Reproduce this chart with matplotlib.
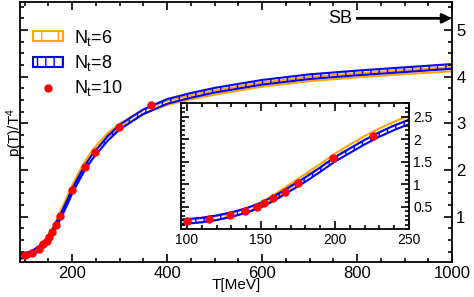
import numpy as np
import matplotlib
matplotlib.use("Agg")
import matplotlib.pyplot as plt
import matplotlib.ticker as ticker

plt.rcParams['font.family'] = ['Liberation Sans', 'DejaVu Sans']
plt.rcParams['hatch.linewidth'] = 1.0
plt.rcParams['mathtext.fontset'] = 'custom'
plt.rcParams['mathtext.rm'] = 'Liberation Sans'
plt.rcParams['mathtext.it'] = 'Liberation Sans'

# curves (N_t = 8 blue band, N_t = 6 orange band), centre values
T_curve = [90, 100, 110, 120, 130, 140, 150, 160, 170, 180, 190, 200, 210, 220,
           230, 240, 250, 275, 300, 350, 400, 450, 500, 600, 700, 800, 900, 1000]
p_nt8 = [0.15, 0.17, 0.20, 0.25, 0.32, 0.41, 0.53, 0.70, 0.90, 1.10, 1.32, 1.55,
         1.74, 1.93, 2.10, 2.25, 2.38, 2.68, 2.92, 3.25, 3.47, 3.60, 3.71, 3.88,
         4.00, 4.08, 4.15, 4.22]
p_nt6 = [0.14, 0.16, 0.19, 0.24, 0.31, 0.41, 0.55, 0.74, 0.96, 1.18, 1.40, 1.63,
         1.83, 2.02, 2.19, 2.34, 2.47, 2.75, 2.95, 3.25, 3.44, 3.56, 3.66, 3.83,
         3.95, 4.03, 4.10, 4.16]
err_nt8 = 0.05
err_nt6 = 0.045

# N_t = 10 points
T_nt10 = [100, 115, 129, 139, 147, 152, 158, 166, 175, 199, 226, 248, 299, 366]
p_nt10 = [0.17, 0.23, 0.31, 0.41, 0.49, 0.57, 0.68, 0.83, 1.02, 1.57, 2.07,
          2.39, 2.92, 3.40]

T = np.array(T_curve)
y8 = np.array(p_nt8)
y6 = np.array(p_nt6)


def draw(ax, labels=True):
    ax.fill_between(T, y6 - err_nt6, y6 + err_nt6, facecolor='white',
                    edgecolor='#FFA500', hatch='|', lw=1.5,
                    label='$N_t$=6' if labels else None)
    ax.fill_between(T, y8 - err_nt8, y8 + err_nt8, facecolor='none',
                    edgecolor='#0000FF', hatch='||', lw=1.5,
                    label='$N_t$=8' if labels else None)


def style(ax, size):
    for s in ax.spines.values():
        s.set_linewidth(1.3)
    ax.tick_params(which='both', direction='in', top=True, bottom=True,
                   left=True, right=True, labelleft=False, labelright=True,
                   width=1.2, labelsize=size, pad=3)
    ax.tick_params(which='major', length=6)
    ax.tick_params(which='minor', length=3)


fig = plt.figure(figsize=(4.74, 2.97), dpi=100)
ax = fig.add_axes([20 / 474, 1 - 262 / 297, 432 / 474, 260 / 297])
draw(ax)
ax.plot(T_nt10, p_nt10, 'o', color='#FF0000', ms=5, label='$N_t$=10')
ax.set_xlim(90, 1000)
ax.set_ylim(0.03, 5.6)
ax.xaxis.set_major_locator(ticker.MultipleLocator(200))
ax.xaxis.set_minor_locator(ticker.MultipleLocator(50))
ax.yaxis.set_major_locator(ticker.MultipleLocator(1))
ax.yaxis.set_minor_locator(ticker.MultipleLocator(0.25))
style(ax, 12)
ax.set_yticks([1, 2, 3, 4, 5])
ax.set_xlabel('T[MeV]', fontsize=11)
ax.xaxis.set_label_coords(0.5, -0.062)
ax.xaxis.label.set_va('top')
fig.text(4 / 474, 1 - 132 / 297, 'p(T)/T$^4$', fontsize=11, rotation=90,
         ha='left', va='center')
ax.annotate('', xy=(1000, 5.25), xytext=(800, 5.25),
            arrowprops=dict(arrowstyle='-|>', lw=2, color='black',
                            mutation_scale=14, shrinkA=0, shrinkB=0))
ax.text(790, 5.25, 'SB', fontsize=13, ha='right', va='center')
ax.legend(loc='upper left', frameon=False, fontsize=13,
          bbox_to_anchor=(0.0, 0.95), handlelength=1.7, handleheight=0.5,
          labelspacing=0.3, handletextpad=0.6, borderaxespad=0.3)

ins = fig.add_axes([181 / 474, 1 - 229 / 297, 228 / 474, 126 / 297])
draw(ins, labels=False)
sel = [i for i, t in enumerate(T_nt10) if t <= 240]
ins.plot([T_nt10[i] for i in sel], [p_nt10[i] for i in sel], 'o',
         color='#FF0000', ms=5)
ins.set_xlim(96, 250)
ins.set_ylim(0, 2.8)
ins.xaxis.set_major_locator(ticker.MultipleLocator(50))
ins.xaxis.set_minor_locator(ticker.MultipleLocator(10))
ins.yaxis.set_major_locator(ticker.MultipleLocator(0.5))
ins.yaxis.set_minor_locator(ticker.MultipleLocator(0.1))
style(ins, 10)
ins.set_yticks([0.5, 1, 1.5, 2, 2.5])
ins.set_yticklabels(['0.5', '1', '1.5', '2', '2.5'])

fig.savefig('out.png', dpi=100)
